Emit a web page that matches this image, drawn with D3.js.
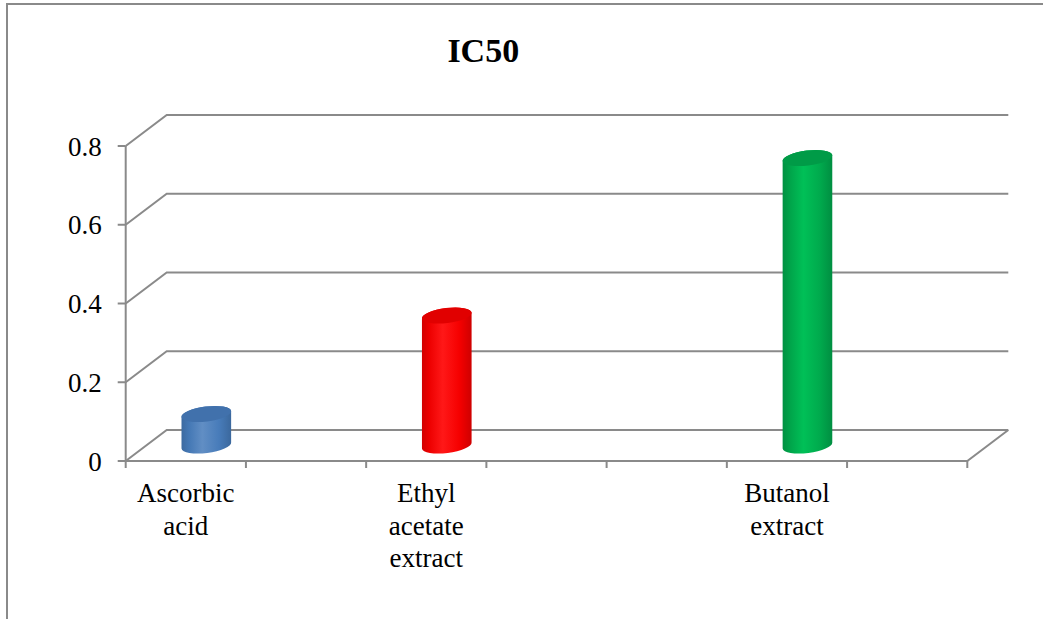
<!DOCTYPE html>
<html>
<head>
<meta charset="utf-8">
<script src="https://cdn.jsdelivr.net/npm/d3@7/dist/d3.min.js"></script>
<style>
  html, body { margin: 0; padding: 0; background: #fff; }
  svg { display: block; }
</style>
</head>
<body>
<svg id="chart" width="1043" height="619"></svg>
<script>
// Category slots along the floor (empty slots keep the spacing of the series)
const categories = ["Ascorbic acid", "", "Ethyl acetate extract", "", "", "Butanol extract", ""];
// IC50 value for each slot (null where no bar is drawn)
const ic50Values = [0.08, null, 0.33, null, null, 0.73, null];
const barColors = ["#4f81bd", null, "#ff0000", null, null, "#00b050", null];
const yTicks = [0, 0.2, 0.4, 0.6, 0.8];
const chartTitle = "IC50";

const svg = d3.select("#chart");
const font = "'Liberation Serif', 'Times New Roman', serif";
const gridColor = "#8a8a8a";

// Outer frame
svg.append("rect")
  .attr("x", 7).attr("y", 4)
  .attr("width", 1100).attr("height", 700)
  .attr("fill", "none").attr("stroke", gridColor).attr("stroke-width", 2);

// Scales
const x = d3.scaleBand().domain(d3.range(categories.length)).range([125.7, 967.3]).padding(0);
const y = d3.scaleLinear().domain([0, 0.8]).range([461, 146]);
// 3-D depth offset of the back wall
const depth = { dx: 41, dy: -31 };

const grid = svg.append("g").attr("stroke", gridColor).attr("stroke-width", 2).attr("fill", "none");

// Side wall diagonals and back wall gridlines
yTicks.forEach(t => {
  const yy = y(t);
  grid.append("path")
    .attr("d", `M${x.range()[0]},${yy} L${x.range()[0] + depth.dx},${yy + depth.dy} L${x.range()[1] + depth.dx},${yy + depth.dy}`);
  // tick mark
  grid.append("line")
    .attr("x1", x.range()[0] - 8).attr("x2", x.range()[0])
    .attr("y1", yy).attr("y2", yy);
});

// Front vertical axis
grid.append("line")
  .attr("x1", x.range()[0]).attr("x2", x.range()[0])
  .attr("y1", y(0)).attr("y2", y(0.8));

// Floor front edge and right edge
grid.append("path")
  .attr("d", `M${x.range()[0]},${y(0)} L${x.range()[1]},${y(0)} L${x.range()[1] + depth.dx},${y(0) + depth.dy}`);

// Category tick marks on the floor front edge
d3.range(categories.length + 1).forEach(i => {
  const xx = x.range()[0] + i * x.step();
  grid.append("line")
    .attr("x1", xx).attr("x2", xx)
    .attr("y1", y(0)).attr("y2", y(0) + 7);
});

// Y tick labels
svg.append("g").selectAll("text")
  .data(yTicks).join("text")
  .attr("x", 101.7).attr("y", d => y(d))
  .attr("dy", "0.36em")
  .attr("text-anchor", "end")
  .attr("font-family", font).attr("font-size", 27)
  .attr("fill", "#000")
  .text(d => d === 0 ? "0" : d3.format(".1f")(d));

// Category labels, one word per line
const labelG = svg.append("g");
categories.forEach((c, i) => {
  if (!c) return;
  const cx = x(i) + x.bandwidth() / 2;
  const t = labelG.append("text")
    .attr("x", cx).attr("y", 502)
    .attr("text-anchor", "middle")
    .attr("font-family", font).attr("font-size", 27)
    .attr("fill", "#000");
  c.split(" ").forEach((w, k) => {
    t.append("tspan").attr("x", cx).attr("dy", k === 0 ? 0 : 32.5).text(w);
  });
});

// Cylinder bars
const defs = svg.append("defs");
const rx = 25, ry = 7.5, rot = -7;
const rad = rot * Math.PI / 180;

function shade(color, k) {
  const c = d3.hsl(color);
  return k >= 0 ? c.brighter(k).formatHex() : c.darker(-k).formatHex();
}

const bars = svg.append("g");
ic50Values.forEach((v, i) => {
  if (v == null) return;
  const col = barColors[i];
  const gid = "body" + i;
  const grad = defs.append("linearGradient").attr("id", gid)
    .attr("x1", "0").attr("x2", "1").attr("y1", "0").attr("y2", "0");
  [[0, shade(col, -0.55)], [0.15, shade(col, -0.2)], [0.42, shade(col, 0.25)],
   [0.75, shade(col, -0.1)], [1, shade(col, -0.6)]].forEach(([o, c]) => {
    grad.append("stop").attr("offset", o).attr("stop-color", c);
  });

  const cx = x(i) + x.bandwidth() / 2 + depth.dx / 2;
  const yb = y(0) + depth.dy / 2;
  const yt = y(v) + depth.dy / 2;
  const ex = rx * Math.cos(rad), ey = rx * Math.sin(rad);

  // body: left side, lower half of bottom ellipse, right side, upper half of top ellipse
  const d = `M${cx - ex},${yt - ey}` +
    ` L${cx - ex},${yb - ey}` +
    ` A${rx},${ry} ${rot} 0 0 ${cx + ex},${yb + ey}` +
    ` L${cx + ex},${yt + ey}` +
    ` A${rx},${ry} ${rot} 0 0 ${cx - ex},${yt - ey} Z`;
  bars.append("path").attr("d", d).attr("fill", `url(#${gid})`);

  // top cap
  bars.append("ellipse")
    .attr("cx", cx).attr("cy", yt)
    .attr("rx", rx).attr("ry", ry)
    .attr("transform", `rotate(${rot},${cx},${yt})`)
    .attr("fill", shade(col, -0.35));
});

// Title
svg.append("text")
  .attr("x", 483.3).attr("y", 61.7)
  .attr("text-anchor", "middle")
  .attr("font-family", font).attr("font-size", 34).attr("font-weight", "bold")
  .attr("fill", "#000")
  .text(chartTitle);
</script>
</body>
</html>
